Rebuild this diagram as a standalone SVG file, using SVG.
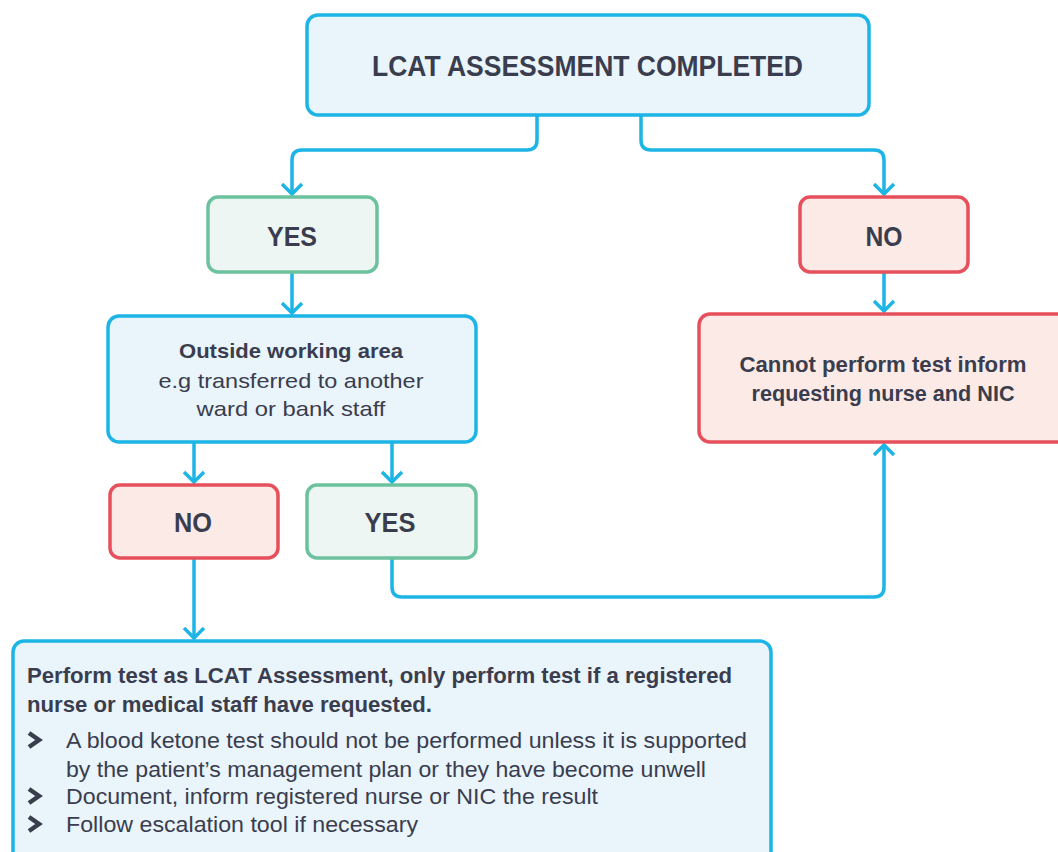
<svg xmlns="http://www.w3.org/2000/svg" xmlns:xlink="http://www.w3.org/1999/xlink" width="1058" height="852" viewBox="0 0 1058 852">
<style>
.blue{fill:#e9f4fb;stroke:#1db4e6;stroke-width:3.5}
.green{fill:#edf6f2;stroke:#6cc29e;stroke-width:3.5}
.red{fill:#fceae7;stroke:#e6505c;stroke-width:3.5}
.t{font-family:"Liberation Sans",Arial,sans-serif;fill:#3a3d4e}
.b{font-weight:bold}
.c{text-anchor:middle}
.conn{fill:none;stroke:#1db4e6;stroke-width:3.5;marker-end:url(#arr)}
.bul{fill:none;stroke:#3a3d4e;stroke-width:4.5;stroke-linejoin:miter}
</style>
<defs>
<marker id="arr" viewBox="-14 -14 28 28" refX="0" refY="0" markerWidth="28" markerHeight="28" markerUnits="userSpaceOnUse" orient="auto">
<path d="M-10,-10 L0,0 L-10,10" fill="none" stroke="#1db4e6" stroke-width="3.5"/>
</marker>
<path id="chev" d="M-5,-7 L5,0 L-5,7"/>
</defs>
<rect width="1058" height="852" fill="#ffffff"/>

<g id="connectors">
<path class="conn" d="M537,115 V140 Q537,150 527,150 H302 Q292,150 292,160 V194"/>
<path class="conn" d="M641,115 V140 Q641,150 651,150 H874 Q884,150 884,160 V194"/>
<path class="conn" d="M292,272 V313"/>
<path class="conn" d="M884,272 V311"/>
<path class="conn" d="M194,441 V482"/>
<path class="conn" d="M392,441 V482"/>
<path class="conn" d="M194,558 V638"/>
<path class="conn" d="M392,558 V587 Q392,597 402,597 H874 Q884,597 884,587 V445"/>
</g>

<g id="lcat">
<rect class="blue" x="307" y="15" width="562" height="100" rx="11"/>
<text class="t b c" x="587.5" y="76" font-size="29" textLength="431" lengthAdjust="spacingAndGlyphs">LCAT ASSESSMENT COMPLETED</text>
</g>

<g id="yes1">
<rect class="green" x="208" y="197" width="169" height="75" rx="10"/>
<text class="t b c" x="292" y="246" font-size="27" textLength="50" lengthAdjust="spacingAndGlyphs">YES</text>
</g>

<g id="no1">
<rect class="red" x="800" y="197" width="168" height="75" rx="10"/>
<text class="t b c" x="884" y="246" font-size="27" textLength="37" lengthAdjust="spacingAndGlyphs">NO</text>
</g>

<g id="outside">
<rect class="blue" x="108" y="316" width="368" height="126" rx="11"/>
<text class="t b c" x="291" y="358" font-size="21" textLength="224" lengthAdjust="spacingAndGlyphs">Outside working area</text>
<text class="t c" x="291" y="388" font-size="21" textLength="265" lengthAdjust="spacingAndGlyphs">e.g transferred to another</text>
<text class="t c" x="291" y="416" font-size="21" textLength="189" lengthAdjust="spacingAndGlyphs">ward or bank staff</text>
</g>

<g id="cannot">
<rect class="red" x="699" y="314" width="380" height="128" rx="11"/>
<text class="t b c" x="883" y="372" font-size="22" textLength="287" lengthAdjust="spacingAndGlyphs">Cannot perform test inform</text>
<text class="t b c" x="883" y="401" font-size="22" textLength="263" lengthAdjust="spacingAndGlyphs">requesting nurse and NIC</text>
</g>

<g id="no2">
<rect class="red" x="110" y="485" width="168" height="73" rx="10"/>
<text class="t b c" x="193" y="532" font-size="28" textLength="38" lengthAdjust="spacingAndGlyphs">NO</text>
</g>

<g id="yes2">
<rect class="green" x="307" y="485" width="169" height="73" rx="10"/>
<text class="t b c" x="390" y="532" font-size="28" textLength="51" lengthAdjust="spacingAndGlyphs">YES</text>
</g>

<g id="perform">
<rect class="blue" x="13" y="641" width="758" height="240" rx="11"/>
<text class="t b" x="27" y="683" font-size="22" textLength="705" lengthAdjust="spacingAndGlyphs">Perform test as LCAT Assessment, only perform test if a registered</text>
<text class="t b" x="27" y="712" font-size="22" textLength="405" lengthAdjust="spacingAndGlyphs">nurse or medical staff have requested.</text>
<use xlink:href="#chev" class="bul" x="34" y="740"/>
<use xlink:href="#chev" class="bul" x="34" y="796"/>
<use xlink:href="#chev" class="bul" x="34" y="824"/>
<text class="t" x="66" y="748" font-size="22" textLength="681" lengthAdjust="spacingAndGlyphs">A blood ketone test should not be performed unless it is supported</text>
<text class="t" x="66" y="777" font-size="22" textLength="640" lengthAdjust="spacingAndGlyphs">by the patient’s management plan or they have become unwell</text>
<text class="t" x="66" y="804" font-size="22" textLength="532" lengthAdjust="spacingAndGlyphs">Document, inform registered nurse or NIC the result</text>
<text class="t" x="66" y="832" font-size="22" textLength="352" lengthAdjust="spacingAndGlyphs">Follow escalation tool if necessary</text>
</g>
</svg>
